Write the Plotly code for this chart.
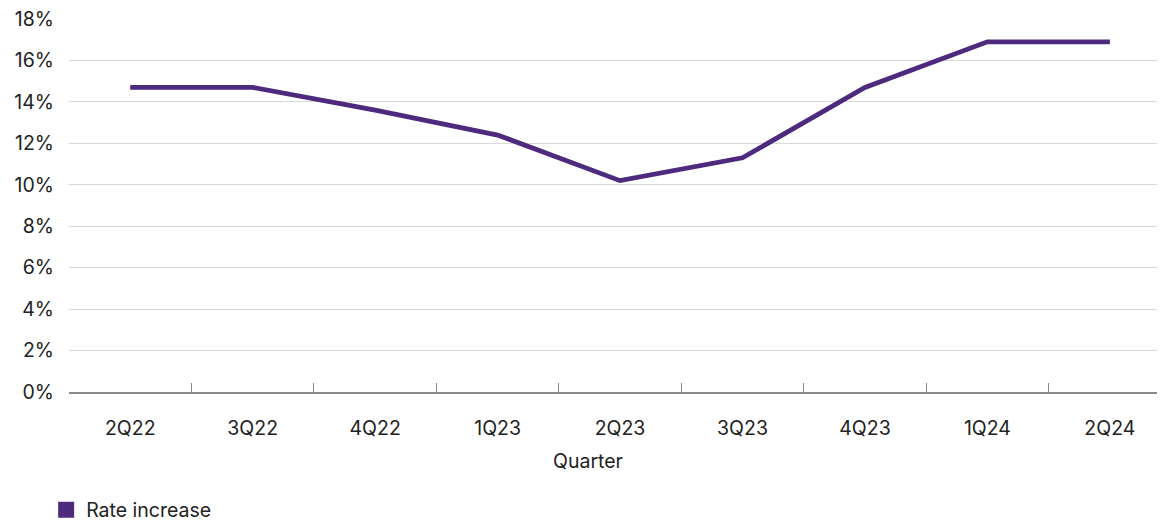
import plotly.graph_objects as go

quarters = ["2Q22", "3Q22", "4Q22", "1Q23", "2Q23", "3Q23", "4Q23", "1Q24", "2Q24"]
rate_increase = [14.7, 14.7, 13.6, 12.4, 10.2, 11.3, 14.7, 16.9, 16.9]
y_ticks = [0, 2, 4, 6, 8, 10, 12, 14, 16, 18]
y_tick_labels = [f"{v}%" for v in y_ticks]

purple = "#4e2a7f"
font_family = "Inter, Roboto, 'Noto Sans', sans-serif"
font_size = 19.5

fig = go.Figure()
fig.add_trace(go.Scatter(
    x=quarters, y=rate_increase, mode="lines",
    line=dict(color=purple, width=4.8),
    showlegend=False, hoverinfo="skip",
))
# legend entry drawn as a square swatch
fig.add_trace(go.Scatter(
    x=[quarters[0]], y=[None], mode="markers", name="Rate increase",
    marker=dict(symbol="square", size=17, color=purple),
))

fig.update_layout(
    width=1165, height=521,
    margin=dict(l=69, r=8, t=19, b=129, autoexpand=False),
    paper_bgcolor="white", plot_bgcolor="white",
    font=dict(family=font_family, size=font_size, color="#222222"),
    legend=dict(orientation="h", x=-0.021, xanchor="left",
                yref="container", y=0.021, yanchor="middle",
                font=dict(size=font_size, color="#222222"), itemwidth=30),
    annotations=[dict(
        text="Quarter", xref="paper", yref="paper", x=0.477, y=-0.186,
        xanchor="center", yanchor="middle", showarrow=False,
        font=dict(size=font_size, color="#222222"),
    )],
)
fig.update_xaxes(
    type="category", range=[-0.5, 8.385], automargin=False,
    tickson="boundaries", ticks="inside", ticklen=9, tickcolor="#8a8a8a", tickwidth=1,
    showline=True, linecolor="#8a8a8a", linewidth=1.5,
    showgrid=False, ticklabelstandoff=18,
    tickfont=dict(size=font_size, color="#222222"),
)
fig.update_yaxes(
    range=[0, 18], tickvals=y_ticks, ticktext=y_tick_labels, automargin=False,
    showgrid=True, gridcolor="#d9d9d9", gridwidth=1.2,
    zeroline=False, showline=False, ticks="", ticklabelstandoff=14,
    tickfont=dict(size=font_size, color="#222222"),
)

fig.write_html("out.html")
